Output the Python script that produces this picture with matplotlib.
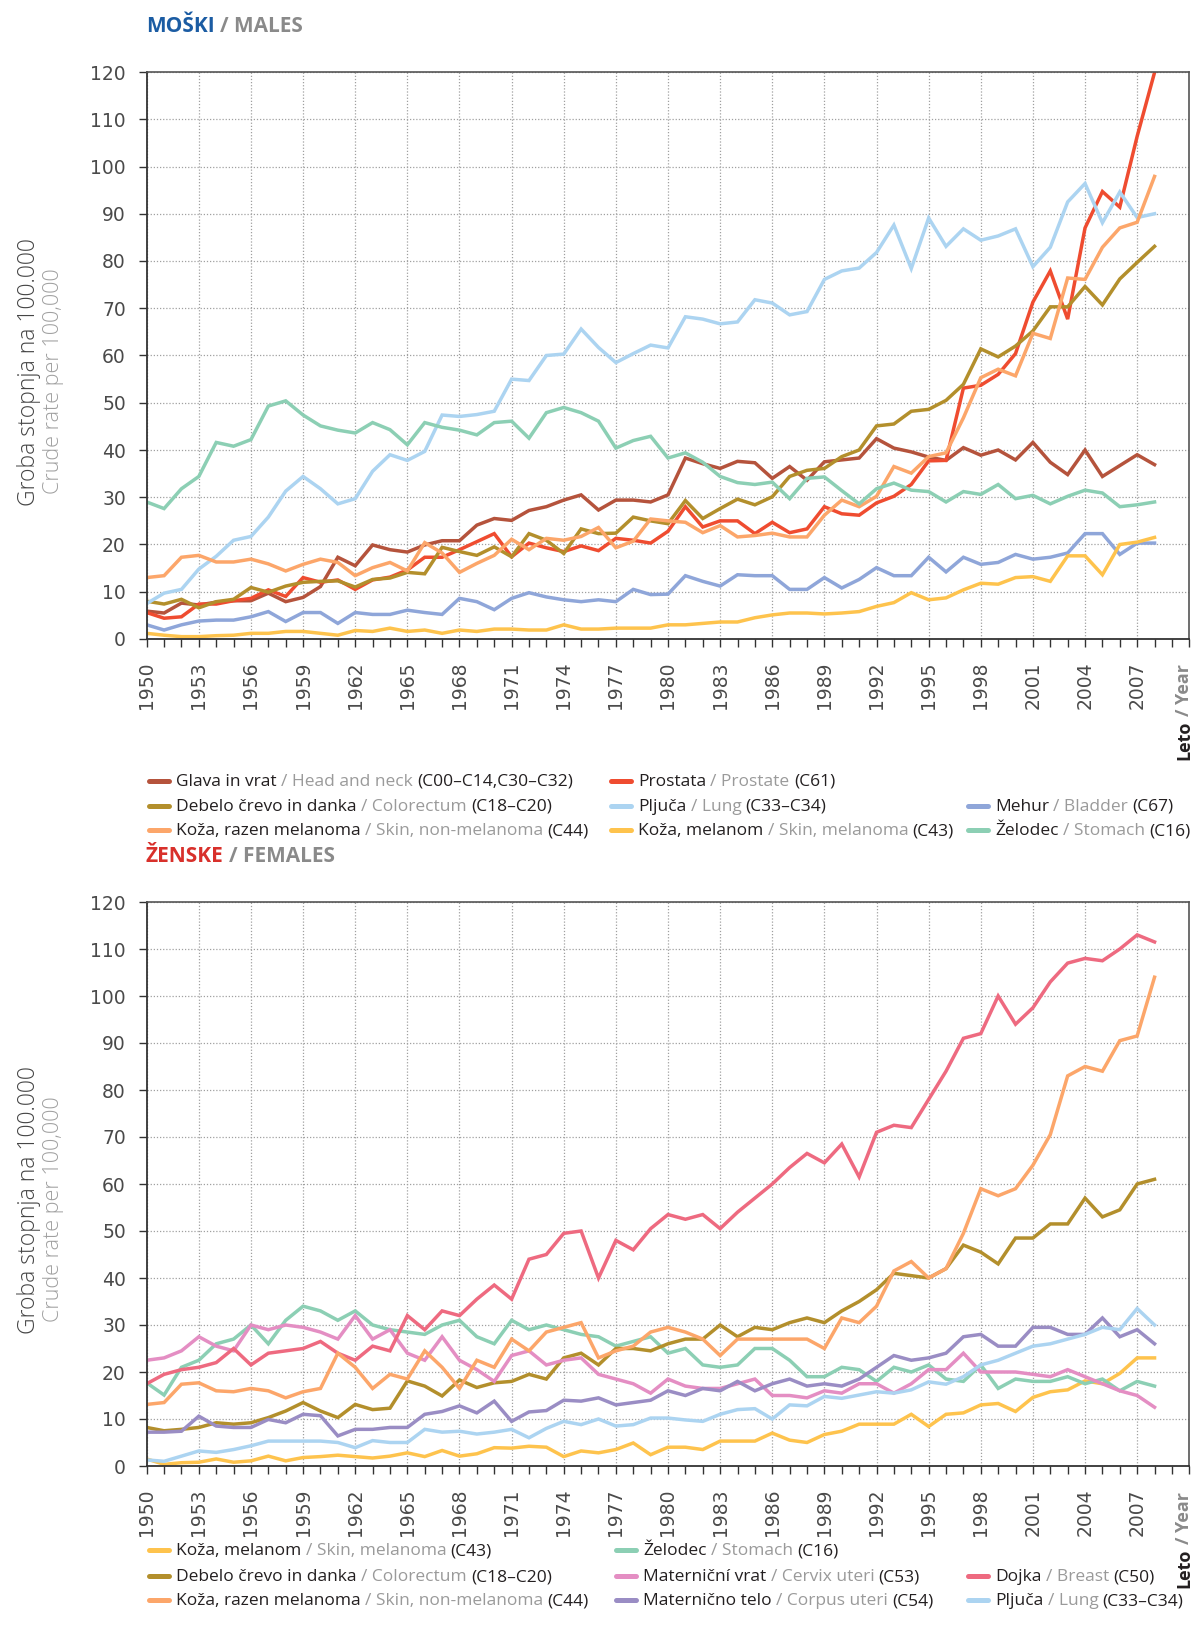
import matplotlib
matplotlib.use('Agg')
import matplotlib.pyplot as plt
from matplotlib.lines import Line2D
from matplotlib.ticker import MultipleLocator

years = list(range(1950, 2009))

# ---- males (crude rate per 100,000)
m_head_neck = [5.9, 5.5, 7.6, 7.2, 7.8, 8.1, 8.1, 9.7, 7.9, 8.8, 11.1, 17.3, 15.5, 19.9, 18.9, 18.4, 19.9, 20.8, 20.8, 24.1,
               25.5, 25.1, 27.2, 28.0, 29.4, 30.5, 27.3, 29.4, 29.4, 29.0, 30.5, 38.3, 37.1, 36.1, 37.6, 37.3, 34.0, 36.5, 33.6, 37.5,
               37.9, 38.3, 42.4, 40.4, 39.6, 38.5, 37.8, 40.5, 38.9, 40.0, 37.9, 41.6, 37.4, 34.8, 40.0, 34.4, 36.7, 39.0, 36.9]
m_prostate = [5.6, 4.4, 4.7, 7.4, 7.4, 8.1, 8.6, 10.4, 9.0, 13.0, 12.0, 12.5, 10.5, 12.5, 13.1, 14.6, 17.3, 17.3, 18.9, 20.6,
              22.3, 17.4, 20.3, 19.3, 18.5, 19.7, 18.7, 21.3, 20.9, 20.3, 22.8, 28.0, 23.7, 25.0, 25.0, 22.3, 24.7, 22.5, 23.3, 28.0,
              26.5, 26.2, 28.8, 30.2, 32.7, 37.7, 37.8, 53.1, 53.7, 56.0, 60.4, 71.3, 77.9, 67.7, 87.0, 94.7, 91.4, 106.4, 119.9]
m_colorectum = [8.0, 7.4, 8.4, 6.6, 7.9, 8.4, 10.9, 9.9, 11.2, 12.0, 12.2, 12.3, 11.0, 12.6, 12.9, 14.1, 13.8, 19.4, 18.5, 17.7,
                19.5, 17.4, 22.3, 20.9, 18.1, 23.3, 22.3, 22.4, 25.8, 25.0, 24.4, 29.3, 25.5, 27.6, 29.6, 28.4, 30.1, 34.4, 35.7, 36.1,
                38.6, 40.0, 45.1, 45.5, 48.2, 48.6, 50.5, 53.9, 61.4, 59.7, 62.0, 65.2, 70.3, 70.3, 74.6, 70.7, 76.2, 79.7, 83.1]
m_lung = [7.5, 9.7, 10.5, 14.8, 17.5, 20.9, 21.7, 25.8, 31.3, 34.4, 31.8, 28.6, 29.7, 35.5, 39.0, 37.8, 39.7, 47.4, 47.1, 47.5,
          48.2, 55.0, 54.7, 60.0, 60.3, 65.6, 61.7, 58.5, 60.4, 62.2, 61.6, 68.2, 67.7, 66.7, 67.1, 71.8, 71.1, 68.6, 69.3, 76.1,
          77.9, 78.5, 81.8, 87.6, 78.4, 89.1, 83.1, 86.8, 84.4, 85.3, 86.8, 78.8, 82.9, 92.5, 96.4, 88.1, 94.6, 89.2, 90.0]
m_bladder = [3.0, 1.9, 3.0, 3.8, 4.0, 4.0, 4.7, 5.8, 3.7, 5.6, 5.6, 3.3, 5.6, 5.2, 5.2, 6.1, 5.6, 5.2, 8.6, 7.9,
             6.2, 8.6, 9.8, 8.9, 8.3, 7.9, 8.3, 7.9, 10.5, 9.4, 9.5, 13.4, 12.2, 11.2, 13.6, 13.4, 13.4, 10.5, 10.5, 13.0,
             10.8, 12.6, 15.1, 13.4, 13.4, 17.3, 14.2, 17.3, 15.8, 16.2, 17.9, 16.9, 17.3, 18.2, 22.3, 22.3, 17.9, 20.3, 20.3]
m_skin_nonmel = [13.0, 13.4, 17.3, 17.7, 16.3, 16.3, 16.9, 15.9, 14.4, 15.8, 16.9, 16.2, 13.4, 15.1, 16.2, 14.4, 20.4, 18.2, 14.1, 16.0,
                 17.7, 21.1, 18.9, 21.3, 20.9, 21.7, 23.6, 19.3, 20.7, 25.4, 25.0, 24.7, 22.5, 24.0, 21.6, 21.9, 22.4, 21.6, 21.6, 26.2,
                 29.4, 28.0, 30.2, 36.5, 35.1, 38.6, 39.4, 46.8, 55.3, 57.1, 55.7, 64.7, 63.6, 76.4, 76.1, 82.9, 87.0, 88.2, 97.9]
m_melanoma = [1.2, 0.8, 0.5, 0.5, 0.7, 0.8, 1.2, 1.2, 1.6, 1.6, 1.2, 0.8, 1.8, 1.6, 2.3, 1.6, 1.9, 1.2, 1.9, 1.6,
              2.1, 2.1, 1.9, 1.9, 3.0, 2.1, 2.1, 2.3, 2.3, 2.3, 3.0, 3.0, 3.3, 3.6, 3.6, 4.5, 5.1, 5.5, 5.5, 5.3,
              5.5, 5.8, 6.9, 7.7, 9.8, 8.3, 8.7, 10.4, 11.8, 11.6, 13.0, 13.2, 12.2, 17.6, 17.6, 13.6, 20.0, 20.5, 21.5]
m_stomach = [29.0, 27.6, 31.8, 34.4, 41.6, 40.8, 42.2, 49.3, 50.4, 47.4, 45.1, 44.2, 43.6, 45.8, 44.3, 41.1, 45.8, 44.8, 44.2, 43.2,
             45.8, 46.1, 42.5, 47.9, 49.0, 47.9, 46.1, 40.4, 42.0, 42.9, 38.3, 39.4, 37.4, 34.4, 33.1, 32.7, 33.2, 29.7, 34.0, 34.3,
             31.4, 28.6, 31.8, 33.0, 31.5, 31.2, 29.0, 31.2, 30.6, 32.7, 29.7, 30.4, 28.6, 30.2, 31.5, 30.9, 28.0, 28.4, 29.0]

# ---- females
f_melanoma = [1.5, 0.35, 0.7, 0.8, 1.5, 0.8, 1.1, 2.1, 1.1, 1.8, 2.0, 2.3, 2.0, 1.7, 2.1, 2.8, 2.0, 3.3, 2.1, 2.6,
              3.9, 3.8, 4.2, 4.0, 2.0, 3.2, 2.8, 3.5, 4.9, 2.4, 4.0, 4.0, 3.5, 5.3, 5.3, 5.3, 7.0, 5.5, 5.0, 6.7,
              7.4, 8.9, 8.9, 8.9, 11.0, 8.4, 11.0, 11.3, 13.0, 13.3, 11.6, 14.6, 15.8, 16.2, 18.1, 17.5, 19.7, 23.0, 23.0]
f_colorectum = [8.2, 7.5, 7.8, 8.2, 9.2, 8.9, 9.2, 10.3, 11.7, 13.5, 11.7, 10.3, 13.1, 12.0, 12.3, 18.1, 17.0, 14.9, 18.3, 16.7,
                17.7, 18.0, 19.5, 18.5, 23.0, 24.0, 21.5, 25.0, 25.0, 24.5, 26.0, 27.0, 27.0, 30.0, 27.5, 29.5, 29.0, 30.5, 31.5, 30.5,
                33.0, 35.0, 37.5, 41.0, 40.5, 40.0, 42.0, 47.0, 45.5, 43.0, 48.5, 48.5, 51.5, 51.5, 57.0, 53.0, 54.5, 60.0, 61.0]
f_skin_nonmel = [13.1, 13.5, 17.4, 17.7, 16.0, 15.8, 16.5, 16.0, 14.5, 15.8, 16.5, 24.0, 21.0, 16.5, 19.5, 18.5, 24.5, 21.0, 16.5, 22.5,
                 21.0, 27.0, 24.5, 28.5, 29.5, 30.5, 23.0, 24.5, 25.5, 28.5, 29.5, 28.5, 27.0, 23.5, 27.0, 27.0, 27.0, 27.0, 27.0, 25.0,
                 31.5, 30.5, 34.0, 41.5, 43.5, 40.0, 42.0, 49.5, 59.0, 57.5, 59.0, 64.0, 70.5, 83.0, 85.0, 84.0, 90.5, 91.5, 104.0]
f_stomach = [17.7, 15.1, 21.0, 22.5, 26.0, 27.0, 30.0, 26.0, 31.0, 34.0, 33.0, 31.0, 33.0, 30.0, 29.0, 28.5, 28.0, 30.0, 31.0, 27.5,
             26.0, 31.0, 29.0, 30.0, 29.0, 28.0, 27.5, 25.5, 26.5, 27.5, 24.0, 25.0, 21.5, 21.0, 21.5, 25.0, 25.0, 22.5, 19.0, 19.0,
             21.0, 20.5, 18.0, 21.0, 20.0, 21.5, 18.5, 18.0, 21.5, 16.5, 18.5, 18.0, 18.0, 19.0, 17.5, 18.5, 16.0, 18.0, 17.0]
f_cervix = [22.5, 23.0, 24.5, 27.5, 25.5, 24.5, 30.0, 29.0, 30.0, 29.5, 28.5, 27.0, 32.0, 27.0, 29.0, 24.0, 22.5, 27.5, 22.5, 20.5,
            18.0, 23.5, 24.5, 21.5, 22.5, 23.0, 19.5, 18.5, 17.5, 15.5, 18.5, 17.0, 16.5, 16.5, 17.5, 18.5, 15.0, 15.0, 14.5, 16.0,
            15.5, 17.5, 17.5, 15.5, 17.5, 20.5, 20.5, 24.0, 20.0, 20.0, 20.0, 19.5, 19.0, 20.5, 19.0, 17.5, 16.0, 15.0, 12.5]
f_corpus = [7.2, 7.2, 7.4, 10.6, 8.5, 8.2, 8.2, 9.9, 9.2, 11.0, 10.7, 6.4, 7.8, 7.8, 8.2, 8.2, 11.0, 11.6, 12.8, 11.3,
            13.8, 9.5, 11.5, 11.8, 14.0, 13.8, 14.5, 13.0, 13.5, 14.0, 16.0, 15.0, 16.5, 16.0, 18.0, 16.0, 17.5, 18.5, 17.0, 17.5,
            17.0, 18.5, 21.0, 23.5, 22.5, 23.0, 24.0, 27.5, 28.0, 25.5, 25.5, 29.5, 29.5, 28.0, 28.0, 31.5, 27.5, 29.0, 26.0]
f_breast = [17.5, 19.5, 20.5, 21.0, 22.0, 25.0, 21.5, 24.0, 24.5, 25.0, 26.5, 24.0, 22.5, 25.5, 24.5, 32.0, 29.0, 33.0, 32.0, 35.5,
            38.5, 35.5, 44.0, 45.0, 49.5, 50.0, 40.0, 48.0, 46.0, 50.5, 53.5, 52.5, 53.5, 50.5, 54.0, 57.0, 60.0, 63.5, 66.5, 64.5,
            68.5, 61.5, 71.0, 72.5, 72.0, 78.0, 84.0, 91.0, 92.0, 100.0, 94.0, 97.5, 103.0, 107.0, 108.0, 107.5, 110.0, 113.0, 111.5]
f_lung = [1.3, 1.0, 2.1, 3.2, 2.9, 3.5, 4.3, 5.3, 5.3, 5.3, 5.3, 5.0, 3.9, 5.4, 5.0, 5.0, 7.8, 7.2, 7.4, 6.8,
          7.2, 7.8, 6.0, 8.0, 9.5, 8.8, 10.0, 8.5, 8.8, 10.2, 10.2, 9.8, 9.5, 11.0, 12.0, 12.2, 10.0, 13.0, 12.8, 14.8,
          14.4, 15.1, 15.8, 15.5, 16.2, 17.9, 17.4, 19.0, 21.5, 22.5, 24.0, 25.5, 26.0, 27.0, 28.0, 29.5, 29.0, 33.5, 30.0]

C_HEAD = '#b5533c'
C_PROST = '#ef4c30'
C_CRC = '#b38f2c'
C_LUNG = '#acd4f1'
C_BLAD = '#8fa6d9'
C_SKIN = '#fca66a'
C_MEL = '#fec34d'
C_STOM = '#8ccfb4'
C_CERV = '#e48ec3'
C_CORP = '#9a8dc4'
C_BREAST = '#ee6a80'

BLACK = '#231f20'
GRAY = '#9a9a9a'
FONT = ['Open Sans', 'DejaVu Sans']

# legend entries: (values, colour, row, col, slovenian, english, code)
male_series = [
    (m_head_neck, C_HEAD, 0, 0, 'Glava in vrat', '/ Head and neck', '(C00–C14,C30–C32)'),
    (m_prostate, C_PROST, 0, 1, 'Prostata', '/ Prostate', '(C61)'),
    (m_colorectum, C_CRC, 1, 0, 'Debelo črevo in danka', '/ Colorectum', '(C18–C20)'),
    (m_lung, C_LUNG, 1, 1, 'Pljuča', '/ Lung', '(C33–C34)'),
    (m_bladder, C_BLAD, 1, 2, 'Mehur', '/ Bladder', '(C67)'),
    (m_skin_nonmel, C_SKIN, 2, 0, 'Koža, razen melanoma', '/ Skin, non-melanoma', '(C44)'),
    (m_melanoma, C_MEL, 2, 1, 'Koža, melanom', '/ Skin, melanoma', '(C43)'),
    (m_stomach, C_STOM, 2, 2, 'Želodec', '/ Stomach', '(C16)'),
]
female_series = [
    (f_melanoma, C_MEL, 0, 0, 'Koža, melanom', '/ Skin, melanoma', '(C43)'),
    (f_stomach, C_STOM, 0, 1, 'Želodec', '/ Stomach', '(C16)'),
    (f_colorectum, C_CRC, 1, 0, 'Debelo črevo in danka', '/ Colorectum', '(C18–C20)'),
    (f_cervix, C_CERV, 1, 1, 'Materniční vrat', '/ Cervix uteri', '(C53)'),
    (f_breast, C_BREAST, 1, 2, 'Dojka', '/ Breast', '(C50)'),
    (f_skin_nonmel, C_SKIN, 2, 0, 'Koža, razen melanoma', '/ Skin, non-melanoma', '(C44)'),
    (f_corpus, C_CORP, 2, 1, 'Maternično telo', '/ Corpus uteri', '(C54)'),
    (f_lung, C_LUNG, 2, 2, 'Pljuča', '/ Lung', '(C33–C34)'),
]

W, H = 1195, 1636
fig = plt.figure(figsize=(W / 100, H / 100), dpi=100)
renderer = fig.canvas.get_renderer()


def fx(px):
    return px / W


def fy(py):
    return 1 - py / H


def rich(x, y, parts, size, weight='normal', rotation=0, gap=None):
    # parts placed one after another, x,y in pixels from top-left
    if gap is None:
        gap = size * 100 / 72 * 0.25
    pos = 0
    for s, c in parts:
        if rotation == 0:
            t = fig.text(fx(x + pos), fy(y), s, color=c, fontsize=size, fontweight=weight,
                         family=FONT, ha='left', va='baseline')
            pos += t.get_window_extent(renderer).width + gap
        else:
            t = fig.text(fx(x), fy(y - pos), s, color=c, fontsize=size, fontweight=weight,
                         family=FONT, ha='left', va='baseline', rotation=90, rotation_mode='anchor')
            pos += t.get_window_extent(renderer).height + gap


def make_panel(top, bottom, series):
    ax = fig.add_axes([fx(146.7), fy(bottom), fx(1189.3 - 146.7), (bottom - top) / H])
    for vals, col, r, c, sl, en, code in series:
        ax.plot(years, vals, color=col, lw=2.5, solid_joinstyle='miter')
    ax.set_xlim(1950, 2010)
    ax.set_ylim(0, 120)
    ax.xaxis.set_minor_locator(MultipleLocator(1))
    ax.yaxis.set_major_locator(MultipleLocator(10))
    ax.set_xticks(range(1950, 2008, 3))
    ax.tick_params(axis='both', which='both', direction='out', length=6, width=1, color='#333333')
    ax.tick_params(axis='x', which='major', labelrotation=90, pad=10)
    ax.tick_params(axis='y', pad=9)
    for lab in ax.get_xticklabels():
        lab.set_fontsize(13.5)
        lab.set_color('#4a4a4a')
        lab.set_family('DejaVu Sans')
    for lab in ax.get_yticklabels():
        lab.set_fontsize(13.5)
        lab.set_color('#4a4a4a')
        lab.set_family('DejaVu Sans')
    ax.grid(True, which='major', color='#a0a0a0', linestyle=(0, (1, 1.5)), lw=0.9)
    ax.set_axisbelow(True)
    for side in ['left', 'bottom']:
        ax.spines[side].set_color('#333333')
        ax.spines[side].set_linewidth(1.3)
    for side in ['top', 'right']:
        ax.spines[side].set_color('#555555')
        ax.spines[side].set_linewidth(1.2)
    return ax


def legend_block(series, row_y, col_x):
    for vals, col, r, c, sl, en, code in series:
        x0, y0 = col_x[c], row_y[r]
        fig.add_artist(Line2D([fx(x0), fx(x0 + 20)], [fy(y0 - 5), fy(y0 - 5)], color=col, lw=3.6,
                              solid_capstyle='round', transform=fig.transFigure))
        rich(x0 + 27, y0, [(sl, BLACK), (en, GRAY), (code, BLACK)], 12.5)


def ylabel(center):
    fig.text(fx(29), fy(center + 16), 'Groba stopnja na 100.000', rotation=90, ha='center', va='center',
             fontsize=16.5, color='#444444', family=FONT, fontweight='light')
    fig.text(fx(54), fy(center + 25), 'Crude rate per 100,000', rotation=90, ha='center', va='center',
             fontsize=15.5, color='#a0a0a0', family=FONT, fontweight='light')


# ---------------- MALES
ax1 = make_panel(72, 639, male_series)
rich(146, 32, [('MOŠKI', '#1b5ca3'), ('/ MALES', '#8a8a8a')], 15, weight='bold')
ylabel(356)
rich(1189, 760, [('Leto', BLACK), ('/ Year', '#8a8a8a')], 13, weight='bold', rotation=90)
legend_block(male_series, [786, 811, 835], [149, 611, 968])

# ---------------- FEMALES
ax2 = make_panel(902, 1466, female_series)
rich(146, 862, [('ŽENSKE', '#d8302b'), ('/ FEMALES', '#8a8a8a')], 15, weight='bold')
ylabel(1184)
rich(1189, 1588, [('Leto', BLACK), ('/ Year', '#8a8a8a')], 13, weight='bold', rotation=90)
legend_block(female_series, [1555, 1581, 1605], [149, 616, 968])

fig.savefig('out.png', dpi=100)
